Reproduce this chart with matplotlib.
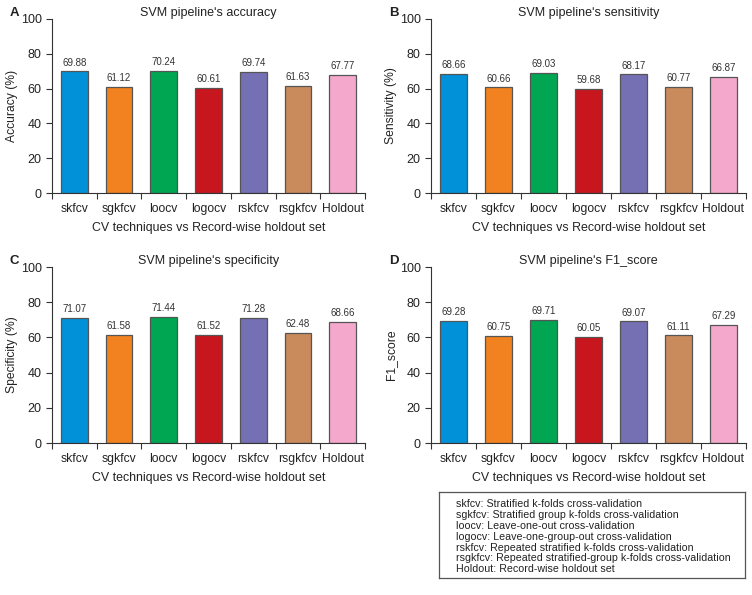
import numpy as np
import matplotlib
matplotlib.use('Agg')
import matplotlib.pyplot as plt

plt.rcParams['font.family'] = ['Liberation Sans', 'DejaVu Sans']

# data
techniques = ['skfcv', 'sgkfcv', 'loocv', 'logocv', 'rskfcv', 'rsgkfcv', 'Holdout']
accuracy = [69.88, 61.12, 70.24, 60.61, 69.74, 61.63, 67.77]
sensitivity = [68.66, 60.66, 69.03, 59.68, 68.17, 60.77, 66.87]
specificity = [71.07, 61.58, 71.44, 61.52, 71.28, 62.48, 68.66]
f1_score = [69.28, 60.75, 69.71, 60.05, 69.07, 61.11, 67.29]

colors = ['#0091d9', '#f2811f', '#00a651', '#c8161e', '#7570b3', '#c98a5c', '#f4a8cb']

legend_lines = [
    'skfcv: Stratified k-folds cross-validation',
    'sgkfcv: Stratified group k-folds cross-validation',
    'loocv: Leave-one-out cross-validation',
    'logocv: Leave-one-group-out cross-validation',
    'rskfcv: Repeated stratified k-folds cross-validation',
    'rsgkfcv: Repeated stratified-group k-folds cross-validation',
    'Holdout: Record-wise holdout set',
]

W, H = 752, 595
fig = plt.figure(figsize=(W / 100, H / 100), dpi=100)


def px_axes(left, top, right, bottom):
    return fig.add_axes([left / W, 1 - bottom / H, (right - left) / W, (bottom - top) / H])


panels = [
    ('A', (52, 19, 365, 193), accuracy, "SVM pipeline\u02b9s accuracy", 'Accuracy (%)'),
    ('B', (431, 19, 746, 193), sensitivity, "SVM pipeline\u02b9s sensitivity", 'Sensitivity (%)'),
    ('C', (52, 267, 365, 443), specificity, "SVM pipeline\u02b9s specificity", 'Specificity (%)'),
    ('D', (431, 267, 746, 443), f1_score, "SVM pipeline\u02b9s F1_score", 'F1_score'),
]

x = np.arange(len(techniques))
for letter, box, vals, title, ylabel in panels:
    ax = px_axes(*box)
    ax.bar(x, vals, width=0.6, color=colors, edgecolor='#555555', linewidth=0.9)
    for xi, v in zip(x, vals):
        ax.text(xi, v + 2.2, f'{v:.2f}', ha='center', va='bottom', fontsize=7, color='#333333')
    ax.set_xlim(-0.5, len(techniques) - 0.5)
    ax.set_ylim(0, 100)
    ax.set_yticks([0, 20, 40, 60, 80, 100])
    ax.set_xticks(np.arange(-0.5, len(techniques), 1.0))
    ax.set_xticklabels([])
    ax.set_xticks(x, minor=True)
    ax.set_xticklabels(techniques, minor=True)
    ax.tick_params(axis='x', which='minor', length=0, labelsize=8.7, pad=7, labelcolor='#222222')
    ax.tick_params(axis='x', which='major', length=4, width=0.8, color='#333333')
    ax.tick_params(axis='y', labelsize=9, length=4, width=0.8, color='#333333', labelcolor='#222222')
    for s in ['top', 'right']:
        ax.spines[s].set_visible(False)
    for s in ['left', 'bottom']:
        ax.spines[s].set_color('#333333')
        ax.spines[s].set_linewidth(0.8)
    ax.set_title(title, fontsize=9, color='#222222', pad=1.5)
    ax.set_ylabel(ylabel, fontsize=8.7, color='#222222', labelpad=2)
    ax.set_xlabel('CV techniques vs Record-wise holdout set', fontsize=8.9, color='#222222', labelpad=5)
    fig.text((box[0] - 42) / W, 1 - (box[1] - 6) / H, letter, fontsize=9.5, fontweight='bold',
             ha='left', va='center', color='#222222')

# legend box
lx0, ly0, lx1, ly1 = 439, 492, 745, 578
lax = px_axes(lx0, ly0, lx1, ly1)
lax.set_xticks([])
lax.set_yticks([])
for s in lax.spines.values():
    s.set_color('#555555')
    s.set_linewidth(0.9)
lax.text(17 / (lx1 - lx0), 0.48, '\n'.join(legend_lines), transform=lax.transAxes, ha='left', va='center',
         fontsize=7.7, color='#222222', linespacing=1.1)

fig.savefig('out.png', dpi=100)
